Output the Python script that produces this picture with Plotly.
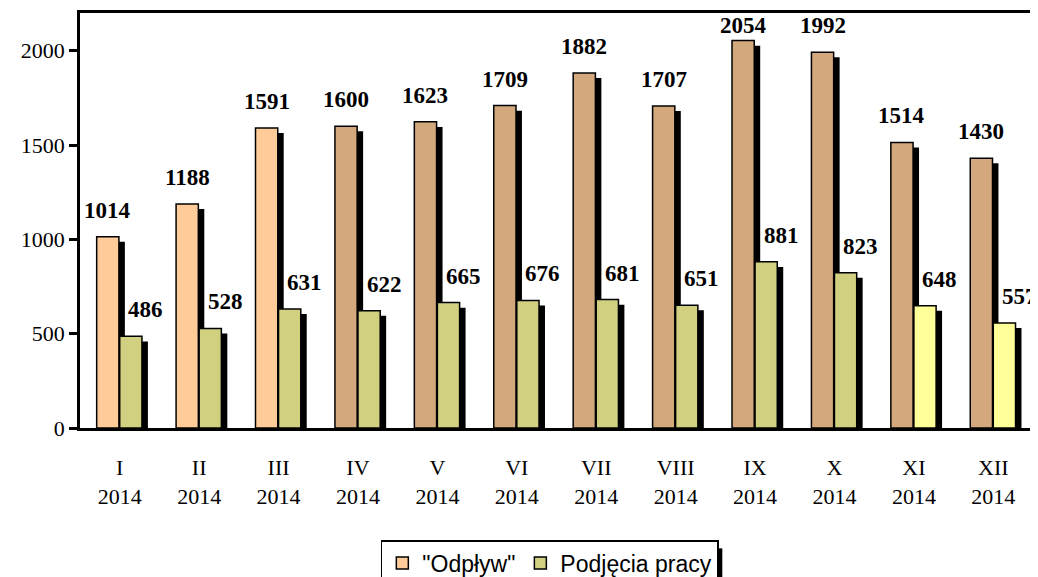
import plotly.graph_objects as go

# data
months = ["I", "II", "III", "IV", "V", "VI", "VII", "VIII", "IX", "X", "XI", "XII"]
year = "2014"
odplyw = [1014, 1188, 1591, 1600, 1623, 1709, 1882, 1707, 2054, 1992, 1514, 1430]
podjecia = [486, 528, 631, 622, 665, 676, 681, 651, 881, 823, 648, 557]

odplyw_colors = ["#FFCC99"] * 3 + ["#D3A87C"] * 9
podjecia_colors = ["#D0D080"] * 10 + ["#FFFF99"] * 2

x = list(range(len(months)))
ticktext = [f"{m}<br>{year}" for m in months]

BAR_W = 0.28
SHADOW_DX = 0.075
SHADOW_DY = 27  # in data units, ~5px
Y_MAX = 2200
SERIF = "Liberation Serif, Times New Roman, serif"

fig = go.Figure()

for vals, colors, off, name in [
    (odplyw, odplyw_colors, -0.29, '"Odpływ"'),
    (podjecia, podjecia_colors, 0.0, "Podjęcia pracy"),
]:
    # shadow
    fig.add_trace(go.Bar(
        x=x, y=vals, base=-SHADOW_DY, width=BAR_W, offset=off + SHADOW_DX,
        marker=dict(color="black", line=dict(width=0)),
        showlegend=False, hoverinfo="skip"))
    fig.add_trace(go.Bar(
        x=x, y=vals, width=BAR_W, offset=off, name=name,
        marker=dict(color=colors, line=dict(color="black", width=1.5))))

label_font = dict(family=SERIF, size=23, color="black")
for i in x:
    # labels near the top get pulled down to stay inside the frame
    ys = 12 if odplyw[i] < Y_MAX - 200 else 1
    fig.add_annotation(x=i - 0.15, y=odplyw[i], text=f"<b>{odplyw[i]}</b>",
                       showarrow=False, yanchor="bottom", yshift=ys, font=label_font)
    fig.add_annotation(x=i + 0.14, y=podjecia[i], text=f"<b>{podjecia[i]}</b>",
                       showarrow=False, yanchor="bottom", xshift=15, yshift=12,
                       font=label_font)

# drop shadow on the right side of the legend box
fig.add_shape(type="rect", xref="paper", yref="paper",
              x0=0.667, x1=0.674, y0=-0.29, y1=-0.45,
              fillcolor="black", line=dict(width=0), layer="below")

# page body has an 8px margin; figure is taller than the window so the
# legend runs off the bottom edge like in the original
fig.update_layout(
    width=1030, height=600,
    barmode="overlay",
    plot_bgcolor="rgba(0,0,0,0)", paper_bgcolor="white",
    margin=dict(l=72, r=5, t=5, b=180),
    font=dict(family=SERIF, size=22, color="black"),
    legend=dict(orientation="h", x=0.493, xanchor="center", y=-0.27, yanchor="top",
                bordercolor="black", borderwidth=1.5, itemwidth=30, bgcolor="white",
                font=dict(family="Liberation Sans, Arial, sans-serif", size=23)),
)
fig.update_xaxes(tickvals=x, ticktext=ticktext, range=[-0.5, 11.5],
                 showline=True, linecolor="black", linewidth=2.5, mirror=True,
                 ticks="", showgrid=False, tickfont=dict(size=22),
                 ticklabelstandoff=18, automargin=False)
fig.update_yaxes(range=[0, Y_MAX], dtick=500, tick0=0,
                 showline=True, linecolor="black", linewidth=2.5, mirror=True,
                 ticks="outside", ticklen=8, tickwidth=2.5, tickcolor="black",
                 showgrid=False, zeroline=False, tickfont=dict(size=22),
                 automargin=False)

fig.write_html("out.html")
